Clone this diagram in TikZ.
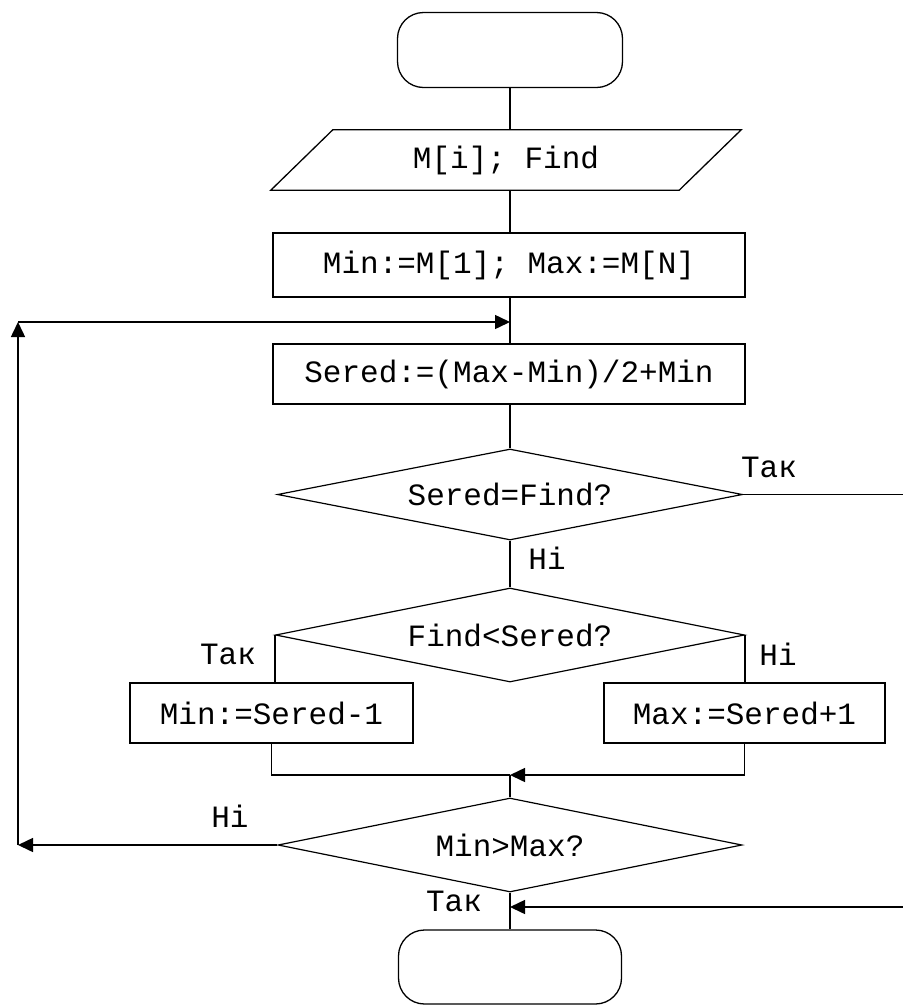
\documentclass[tikz,border=0pt]{standalone}
\usepackage{fontspec}
\setmonofont{Liberation Mono}
\usetikzlibrary{shapes.geometric,arrows.meta,calc}
\begin{document}
\begin{tikzpicture}[x=1pt,y=-1pt,
  every node/.style={font=\fontsize{31}{36}\selectfont\ttfamily},
  line/.style={line width=1.5pt, draw=black},
  arr/.style={line width=1.5pt, -{Triangle[length=15pt,width=14pt]}},
  term/.style={draw, line width=1.3pt, rounded corners=26pt, inner sep=0pt},
  procbox/.style={draw, line width=1.5pt, rectangle, inner sep=0pt},
  iobox/.style={rectangle, inner sep=0pt},
  ioline/.style={line width=1.3pt, line join=miter},
  decision/.style={draw, line width=1.2pt, diamond, inner sep=0pt, shape aspect=5},
  lbl/.style={inner sep=0pt}
]
\useasboundingbox (0,0) rectangle (903,1005);

% nodes
\node[term, minimum width=225pt, minimum height=75pt] (start) at (510,50) {};
\node[iobox, minimum width=408pt, minimum height=60pt] (io) at (506,160) {M[i]; Find};
\draw[ioline] ($(io.north west)+(31,0)$) -- ($(io.north east)+(31,0)$)
  -- ($(io.south east)+(-31,0)$) -- ($(io.south west)+(-31,0)$) -- cycle;
\node[procbox, minimum width=472pt, minimum height=64pt] (b1) at (509,265) {Min:=M[1]; Max:=M[N]};
\node[procbox, minimum width=472pt, minimum height=60pt] (b2) at (509,374) {Sered:=(Max-Min)/2+Min};
\node[decision, minimum width=465pt, minimum height=91pt] (d1) at (510,494.5) {Sered=Find?};
\node[decision, minimum width=469pt, minimum height=94pt] (d2) at (510,635) {Find<Sered?};
\node[procbox, minimum width=283pt, minimum height=60pt] (bl) at (271.5,713) {Min:=Sered-1};
\node[procbox, minimum width=281pt, minimum height=60pt] (br) at (744.5,713) {Max:=Sered+1};
\node[decision, minimum width=464pt, minimum height=94pt] (d3) at (510,845) {Min>Max?};
\node[term, minimum width=223pt, minimum height=74pt] (end) at (510,967) {};

% coordinates
\coordinate (eR1) at (903,494.5);
\coordinate (eR2) at (903,907);
\coordinate (m) at (510,775);
\coordinate (L1) at (18,845);
\coordinate (L2) at (18,322);
\coordinate (J) at (510,322);
\coordinate (J2) at (510,907);

% connectors
\draw[line] (start.south) -- (start.south |- io.north);
\draw[line] (start.south |- io.south) -- (start.south |- b1.north);
\draw[line] (start.south |- b1.south) -- (start.south |- b2.north);
\draw[line] (start.south |- b2.south) -- (d1.north);
\draw[line] (d1.south) -- (d2.north);
\draw[line] (d1.east) -- (eR1);
\draw[line] (d2.west) -- (d2.west |- bl.north);
\draw[line] (d2.east) -- (d2.east |- br.north);
\draw[line] (bl.south) |- (m);
\draw[arr] (br.south) |- (m);
\draw[line] (m) -- (d3.north);
\draw[arr] (d3.west) -- (L1);
\draw[arr] (L1) -- (L2);
\draw[arr] (L2) -- (J);
\draw[line] (d3.south) -- (end.north);
\draw[arr] (eR2) -- (J2);

% labels
\node[lbl] (t1) at (769,467) {Так};
\node[lbl] (n1) at (547,558) {Ні};
\node[lbl] (t2) at (228,654) {Так};
\node[lbl] (n2) at (778,654) {Ні};
\node[lbl] (n3) at (230,816) {Ні};
\node[lbl] (t3) at (454,901) {Так};
\end{tikzpicture}
\end{document}
